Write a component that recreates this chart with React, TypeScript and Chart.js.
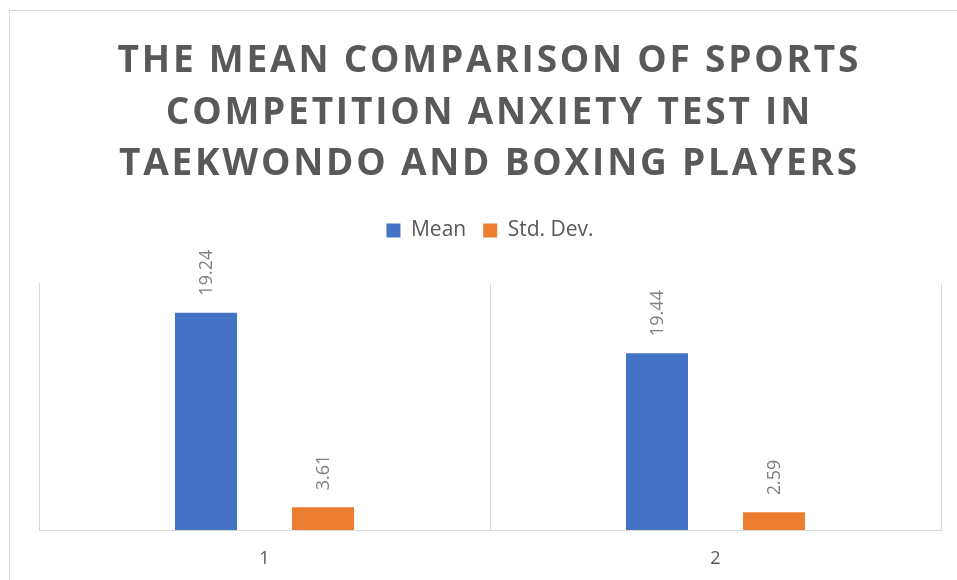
import React, { useEffect, useRef } from 'react';
import { Chart, registerables } from 'chart.js';

Chart.register(...registerables);

// ---- data ----
const TITLE_LINES = [
  'THE MEAN COMPARISON OF SPORTS',
  'COMPETITION ANXIETY TEST IN',
  'TAEKWONDO AND BOXING PLAYERS',
];
const CATEGORIES = ['1', '2'];
const SERIES_NAMES = ['Mean', 'Std. Dev.'];
// bar heights as drawn in the picture (value-axis units, axis 0..25)
const MEAN_BAR_VALUES = [22.0, 17.9];
const STD_BAR_VALUES = [2.3, 1.8];
// data labels as printed in the picture
const MEAN_LABELS = ['19.24', '19.44'];
const STD_LABELS = ['3.61', '2.59'];
const Y_MAX = 25;

const FONT = '"Open Sans", sans-serif';
const TEXT_DARK = '#595959';
const GRID = '#d9d9d9';

const frameAndTitle = {
  id: 'frameAndTitle',
  beforeDraw(chart: any) {
    const ctx = chart.ctx as CanvasRenderingContext2D;
    ctx.save();
    ctx.fillStyle = '#ffffff';
    ctx.fillRect(0, 0, chart.width, chart.height);
    ctx.strokeStyle = GRID;
    ctx.lineWidth = 1;
    ctx.strokeRect(9.5, 10.5, chart.width + 20, chart.height + 20);
    ctx.fillStyle = TEXT_DARK;
    ctx.font = `bold 37px ${FONT}`;
    ctx.textAlign = 'left';
    ctx.textBaseline = 'alphabetic';
    const spacing = 2.8;
    TITLE_LINES.forEach((line, i) => {
      const chars = Array.from(line);
      const widths = chars.map((c) => ctx.measureText(c).width);
      const total = widths.reduce((a, b) => a + b, 0) + spacing * (chars.length - 1);
      let x = 488 - total / 2;
      const y = 72 + i * 51.5;
      chars.forEach((c, j) => {
        ctx.fillText(c, x, y);
        x += widths[j] + spacing;
      });
    });
    ctx.restore();
  },
};

const barLabels = {
  id: 'barLabels',
  afterDatasetsDraw(chart: any) {
    const ctx = chart.ctx as CanvasRenderingContext2D;
    const sets = [MEAN_LABELS, STD_LABELS];
    ctx.save();
    ctx.font = `18px ${FONT}`;
    ctx.fillStyle = '#7f7f7f';
    ctx.textAlign = 'left';
    ctx.textBaseline = 'alphabetic';
    chart.data.datasets.forEach((_ds: any, di: number) => {
      const meta = chart.getDatasetMeta(di);
      meta.data.forEach((bar: any, i: number) => {
        ctx.save();
        ctx.translate(bar.x, bar.y - 17);
        ctx.rotate(-Math.PI / 2);
        ctx.fillText(sets[di][i], 0, 6.4);
        ctx.restore();
      });
    });
    ctx.restore();
  },
};

export default function App() {
  const canvasRef = useRef<HTMLCanvasElement | null>(null);

  useEffect(() => {
    if (!canvasRef.current) return;
    const chart = new Chart(canvasRef.current, {
      type: 'bar',
      data: {
        labels: CATEGORIES,
        datasets: [
          {
            label: SERIES_NAMES[0],
            data: MEAN_BAR_VALUES,
            backgroundColor: '#4472C4',
            borderColor: '#4472C4',
            borderWidth: 0,
            categoryPercentage: 0.519,
            barPercentage: 0.53,
          },
          {
            label: SERIES_NAMES[1],
            data: STD_BAR_VALUES,
            backgroundColor: '#ED7D31',
            borderColor: '#ED7D31',
            borderWidth: 0,
            categoryPercentage: 0.519,
            barPercentage: 0.53,
          },
        ],
      },
      options: {
        responsive: false,
        animation: false,
        layout: { padding: { top: 203, left: 39, right: 16, bottom: 0 } },
        plugins: {
          title: { display: false },
          tooltip: { enabled: false },
          legend: {
            display: true,
            position: 'top',
            labels: {
              boxWidth: 14,
              boxHeight: 14,
              padding: 17,
              color: TEXT_DARK,
              font: { family: FONT, size: 21 },
            },
          },
        },
        scales: {
          x: {
            grid: { display: true, offset: true, color: GRID, drawTicks: false },
            border: { display: true, color: GRID },
            ticks: { color: TEXT_DARK, font: { family: FONT, size: 18 }, padding: 18 },
            afterFit: (s: any) => {
              s.height = 50;
            },
          },
          xTop: {
            type: 'category',
            position: 'top',
            labels: CATEGORIES,
            grid: { display: false, drawTicks: false },
            border: { display: false },
            ticks: { display: false },
            afterFit: (s: any) => {
              s.height = 32;
            },
          },
          y: { display: false, min: 0, max: Y_MAX },
        },
      } as any,
      plugins: [frameAndTitle, barLabels],
    });
    return () => chart.destroy();
  }, []);

  return (
    <div style={{ position: 'absolute', left: 0, top: 0, width: 957, height: 580 }}>
      <canvas ref={canvasRef} width={957} height={580} style={{ display: 'block' }} />
    </div>
  );
}
